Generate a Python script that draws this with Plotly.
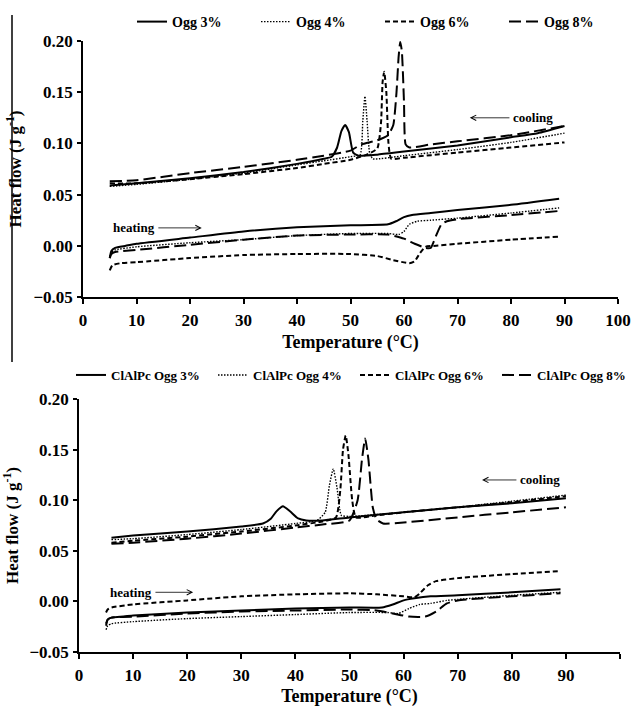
import plotly.graph_objects as go

# ---------------- Top panel (Ogg) ----------------
top_names = ["Ogg 3%", "Ogg 4%", "Ogg 6%", "Ogg 8%"]

top_cool_x = [
    [5, 10, 20, 30, 40, 45, 46.5, 47.5, 48.3, 49, 49.7, 50.5, 51.5, 55, 60, 70, 80, 85, 90],
    [5, 10, 20, 30, 40, 45, 50, 51.8, 52.3, 52.7, 53.1, 53.6, 54.2, 60, 70, 80, 90],
    [5, 10, 20, 30, 40, 45, 50, 53, 55, 55.7, 56.0, 56.3, 56.7, 57.1, 57.6, 60, 70, 80, 90],
    [5, 10, 20, 30, 40, 45, 50, 52, 55, 57, 58, 58.6, 59.0, 59.3, 59.6, 60.0, 60.3, 61, 65, 70, 80, 90],
]
top_cool_y = [
    [0.059, 0.061, 0.066, 0.072, 0.080, 0.085, 0.087, 0.096, 0.112, 0.118, 0.111, 0.091, 0.088, 0.089, 0.092, 0.098, 0.106, 0.110, 0.117],
    [0.058, 0.060, 0.065, 0.071, 0.079, 0.083, 0.087, 0.089, 0.122, 0.146, 0.122, 0.090, 0.085, 0.088, 0.094, 0.101, 0.110],
    [0.061, 0.061, 0.065, 0.070, 0.076, 0.080, 0.084, 0.089, 0.095, 0.120, 0.160, 0.170, 0.150, 0.100, 0.085, 0.086, 0.091, 0.096, 0.101],
    [0.063, 0.064, 0.071, 0.077, 0.084, 0.088, 0.093, 0.099, 0.103, 0.108, 0.118, 0.150, 0.185, 0.199, 0.190, 0.140, 0.099, 0.096, 0.099, 0.102, 0.108, 0.117],
]
top_heat_x = [
    [5, 5.3, 6, 8, 10, 20, 30, 40, 50, 57, 58.5, 60, 61.5, 65, 70, 80, 89],
    [5, 5.3, 6, 10, 20, 30, 40, 50, 57, 59, 60, 61, 62.5, 65, 70, 80, 89],
    [5, 5.5, 7, 10, 20, 30, 40, 50, 55, 58, 61, 62, 63, 64, 66, 70, 80, 89],
    [5, 5.3, 6, 10, 20, 30, 40, 50, 57, 60, 62, 64, 65, 66, 67, 68, 70, 80, 89],
]
top_heat_y = [
    [-0.012, -0.005, -0.002, 0.000, 0.002, 0.008, 0.014, 0.018, 0.020, 0.021, 0.024, 0.028, 0.030, 0.032, 0.035, 0.040, 0.046],
    [-0.011, -0.006, -0.004, -0.001, 0.003, 0.006, 0.010, 0.012, 0.012, 0.011, 0.014, 0.021, 0.024, 0.025, 0.027, 0.032, 0.037],
    [-0.024, -0.019, -0.017, -0.016, -0.012, -0.009, -0.008, -0.008, -0.010, -0.014, -0.017, -0.015, -0.007, -0.001, 0.000, 0.002, 0.006, 0.009],
    [-0.012, -0.008, -0.006, -0.004, 0.001, 0.006, 0.010, 0.011, 0.011, 0.007, 0.002, -0.002, -0.002, 0.010, 0.021, 0.024, 0.026, 0.030, 0.034],
]

# ---------------- Bottom panel (ClAlPc Ogg) ----------------
bot_names = ["ClAlPc Ogg 3%", "ClAlPc Ogg 4%", "ClAlPc Ogg 6%", "ClAlPc Ogg 8%"]

bot_cool_x = [
    [6, 10, 20, 30, 34, 35.5, 36.5, 37.7, 39, 40.5, 42, 45, 50, 60, 70, 80, 90],
    [6, 10, 20, 30, 40, 44, 45.5, 46.3, 47, 47.7, 48.5, 50, 60, 70, 80, 90],
    [6, 10, 20, 30, 40, 45, 47.5, 48.3, 48.8, 49.3, 49.8, 50.5, 51.2, 55, 60, 70, 80, 90],
    [6, 10, 20, 30, 40, 45, 50, 51.5, 52.3, 52.9, 53.5, 54.3, 55, 56.2, 60, 70, 80, 90],
]
bot_cool_y = [
    [0.063, 0.065, 0.069, 0.074, 0.077, 0.082, 0.089, 0.094, 0.089, 0.082, 0.080, 0.080, 0.083, 0.088, 0.093, 0.097, 0.102],
    [0.061, 0.062, 0.066, 0.071, 0.077, 0.080, 0.088, 0.115, 0.131, 0.112, 0.085, 0.084, 0.088, 0.093, 0.099, 0.105],
    [0.058, 0.060, 0.064, 0.069, 0.075, 0.079, 0.083, 0.110, 0.150, 0.164, 0.145, 0.100, 0.083, 0.085, 0.088, 0.093, 0.098, 0.104],
    [0.057, 0.058, 0.062, 0.067, 0.073, 0.076, 0.080, 0.100, 0.140, 0.161, 0.140, 0.093, 0.081, 0.077, 0.078, 0.083, 0.088, 0.093],
]
bot_heat_x = [
    [5, 5.3, 6, 10, 20, 30, 40, 50, 56, 58, 60, 62, 65, 70, 80, 89],
    [5, 5.3, 6, 10, 20, 30, 40, 50, 57, 59, 61, 63, 65, 68, 70, 80, 89],
    [5, 5.3, 6, 10, 20, 30, 40, 50, 55, 60, 62, 63, 64.5, 66, 70, 80, 89],
    [5, 5.3, 6, 10, 20, 30, 40, 50, 55, 58, 61, 64, 66, 68, 70, 80, 89],
]
bot_heat_y = [
    [-0.024, -0.018, -0.016, -0.014, -0.011, -0.009, -0.007, -0.006, -0.006, -0.003, 0.001, 0.003, 0.005, 0.006, 0.009, 0.012],
    [-0.028, -0.024, -0.022, -0.020, -0.017, -0.015, -0.013, -0.011, -0.011, -0.012, -0.007, -0.003, -0.002, 0.001, 0.002, 0.006, 0.009],
    [-0.011, -0.008, -0.006, -0.003, 0.001, 0.005, 0.007, 0.008, 0.007, 0.005, 0.004, 0.008, 0.016, 0.020, 0.023, 0.027, 0.030],
    [-0.022, -0.018, -0.016, -0.015, -0.012, -0.010, -0.009, -0.008, -0.009, -0.012, -0.015, -0.015, -0.010, -0.002, 0.001, 0.005, 0.008],
]

x_ticks = [0, 10, 20, 30, 40, 50, 60, 70, 80, 90, 100]
y_ticks = [-0.05, 0.00, 0.05, 0.10, 0.15, 0.20]

styles = [
    dict(color="black", width=2, dash="solid"),
    dict(color="black", width=1.4, dash="1.5px,1.5px"),
    dict(color="black", width=2, dash="5px,3px"),
    dict(color="black", width=2, dash="12px,5px"),
]

FONT = "Liberation Serif"
fig = go.Figure()


def add_panel(names, cx, cy, hx, hy, xa, ya, leg):
    for i, name in enumerate(names):
        fig.add_trace(go.Scatter(
            x=list(cx[i]) + [None] + list(hx[i]),
            y=list(cy[i]) + [None] + list(hy[i]),
            mode="lines", name=name, line=dict(**styles[i], shape="spline", smoothing=0.5),
            xaxis=xa, yaxis=ya, legend=leg, connectgaps=False,
        ))


add_panel(top_names, top_cool_x, top_cool_y, top_heat_x, top_heat_y, "x", "y", "legend")
add_panel(bot_names, bot_cool_x, bot_cool_y, bot_heat_x, bot_heat_y, "x2", "y2", "legend2")

W, H = 632, 707
px = lambda v: v / W
py = lambda v: 1 - v / H

tickfont = dict(family=FONT, size=17, color="black", weight="bold")
xtitlefont = dict(family=FONT, size=18, color="black", weight="bold")
ytitlefont = dict(family=FONT, size=17, color="black", weight="bold")

xcommon = dict(range=[0, 100], tickvals=x_ticks, ticks="outside", ticklen=5, tickwidth=1.5,
               tickcolor="black", showline=True, linecolor="black", linewidth=2,
               showgrid=False, zeroline=False, tickfont=tickfont, automargin=False,
               ticklabelstandoff=2,
               title=dict(text="Temperature (°C)", font=xtitlefont, standoff=6))
ycommon = dict(range=[-0.05, 0.20], tickvals=y_ticks, tickformat=".2f", ticks="outside",
               ticklen=4, tickwidth=1.5, tickcolor="black", showline=True, linecolor="black",
               linewidth=1.5, showgrid=False, zeroline=False, tickfont=tickfont, automargin=True,
               ticklabelstandoff=1,
               title=dict(text="Heat flow (J g<sup>-1</sup>)", font=ytitlefont, standoff=7))

fig.update_layout(
    template="none",
    width=W, height=H, margin=dict(l=0, r=0, t=0, b=0, autoexpand=False),
    paper_bgcolor="white", plot_bgcolor="white",
    xaxis=dict(domain=[px(83), px(618)], anchor="y", **xcommon),
    yaxis=dict(domain=[py(297), py(41)], anchor="x", **ycommon),
    xaxis2=dict(domain=[px(79), px(620)], anchor="y2", **xcommon),
    yaxis2=dict(domain=[py(652), py(399)], anchor="x2", **ycommon),
    legend=dict(orientation="h", x=px(132), y=py(22), xanchor="left", yanchor="middle",
                font=dict(family=FONT, size=14, color="black", weight="bold"),
                entrywidth=79, bgcolor="rgba(0,0,0,0)", itemwidth=30, tracegroupgap=0),
    legend2=dict(orientation="h", x=px(71), y=py(375), xanchor="left", yanchor="middle",
                 font=dict(family=FONT, size=13, color="black", weight="bold"),
                 entrywidth=97, bgcolor="rgba(0,0,0,0)", itemwidth=30, tracegroupgap=0),
    showlegend=True,
)

annfont = dict(family=FONT, size=13, color="black", weight="bold")
arrow = dict(showarrow=True, arrowhead=5, arrowsize=1.3, arrowwidth=0.8, arrowcolor="black",
             standoff=0, startstandoff=2, font=annfont)
ann = [
    # top panel: text placed at (ax, ay), arrow head at (x, y)
    dict(text="cooling", x=72.3, y=0.125, ax=84.1, ay=0.125, xref="x", yref="y", axref="x", ayref="y", **arrow),
    dict(text="heating", x=22.2, y=0.0175, ax=9.5, ay=0.0175, xref="x", yref="y", axref="x", ayref="y", **arrow),
    # bottom panel
    dict(text="cooling", x=74.5, y=0.120, ax=85.2, ay=0.120, xref="x2", yref="y2", axref="x2", ayref="y2", **arrow),
    dict(text="heating", x=21.1, y=0.009, ax=9.6, ay=0.009, xref="x2", yref="y2", axref="x2", ayref="y2", **arrow),
]
fig.update_layout(annotations=ann)

# left border artifact line
fig.add_shape(type="line", xref="paper", yref="paper", x0=px(12), x1=px(12), y0=py(15), y1=py(362),
              line=dict(color="black", width=1.5))

fig.write_html("out.html", config={"displayModeBar": False},
               post_script="document.body.style.margin='0';document.body.style.overflow='hidden';")
